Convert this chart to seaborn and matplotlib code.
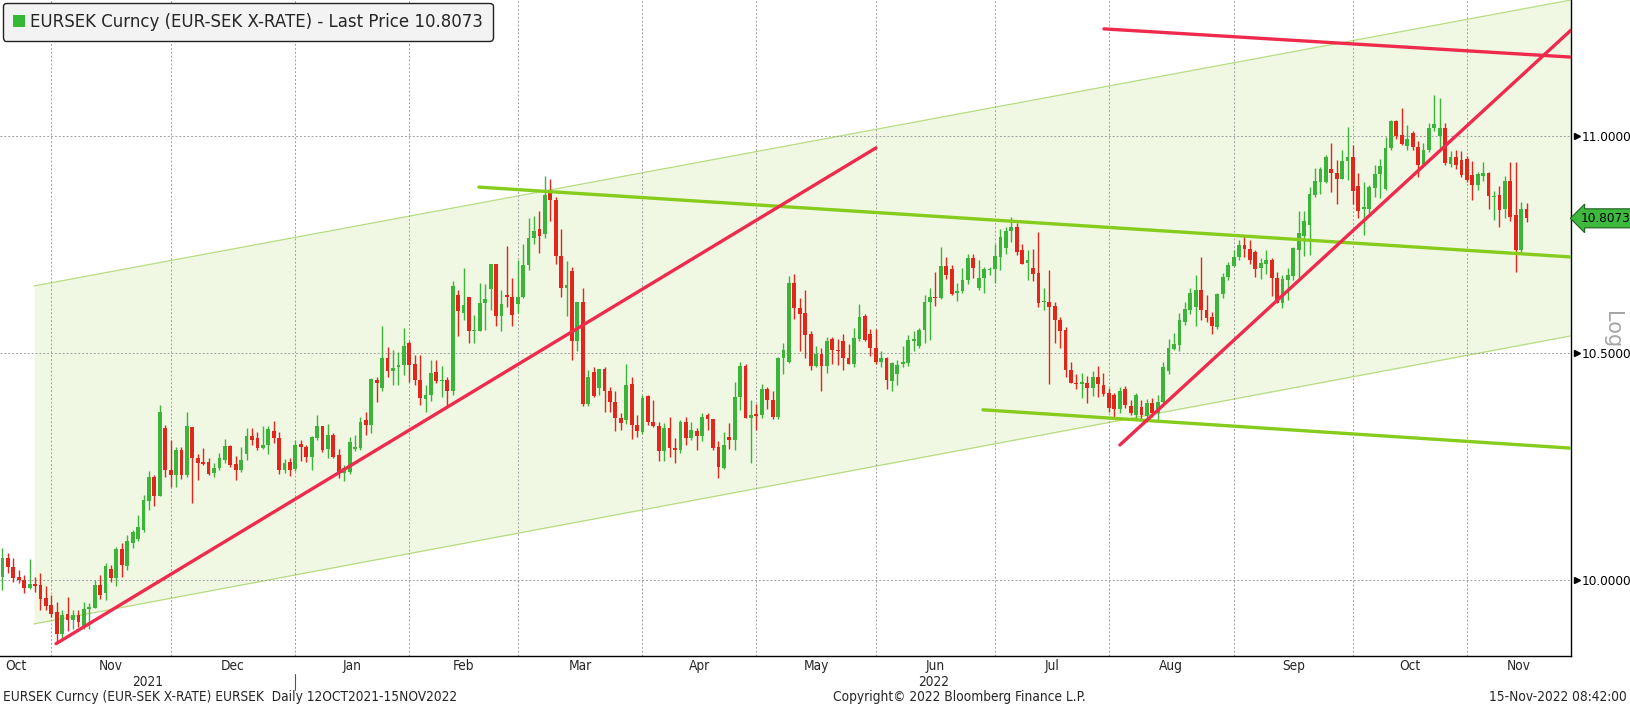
"""EURSEK daily candles (Oct 2021 - Nov 2022) in the Bloomberg chart look,
with the hand-drawn trend channel and trend lines. Writes out.png."""
import matplotlib
matplotlib.use("Agg")
import matplotlib.pyplot as plt
import numpy as np
import pandas as pd
import seaborn as sns
from matplotlib import font_manager
from matplotlib.patches import Patch
from matplotlib.ticker import NullLocator
from matplotlib.transforms import blended_transform_factory

RANGE_START = "2021-10-12"      # requested range (first sessions are off-screen)
FIRST_SESSION = "2021-10-18"
LAST_SESSION = "2022-11-15"

# daily OHLC, one value per weekday from FIRST_SESSION to LAST_SESSION
OPEN = [
    10.007, 10.047, 10.027, 10.007, 10.000, 9.982, 9.991, 9.989, 9.962, 9.946,
    9.932, 9.885, 9.927, 9.914, 9.925, 9.899, 9.937, 9.939, 9.989, 9.971,
    10.023, 10.004, 10.066, 10.029, 10.079, 10.088, 10.108, 10.172, 10.224, 10.182,
    10.331, 10.239, 10.228, 10.282, 10.228, 10.333, 10.265, 10.256, 10.256, 10.232,
    10.243, 10.261, 10.292, 10.253, 10.238, 10.275, 10.313, 10.309, 10.288, 10.295,
    10.325, 10.309, 10.239, 10.256, 10.242, 10.297, 10.290, 10.267, 10.309, 10.335,
    10.285, 10.316, 10.271, 10.232, 10.234, 10.285, 10.288, 10.350, 10.338, 10.438,
    10.420, 10.489, 10.459, 10.468, 10.472, 10.523, 10.474, 10.438, 10.396, 10.405,
    10.457, 10.436, 10.438, 10.414, 10.631, 10.590, 10.627, 10.548, 10.550, 10.613,
    10.644, 10.703, 10.582, 10.631, 10.627, 10.611, 10.627, 10.700, 10.762, 10.782,
    10.770, 10.868, 10.851, 10.720, 10.647, 10.685, 10.526, 10.615, 10.384, 10.457,
    10.420, 10.463, 10.415, 10.390, 10.353, 10.349, 10.430, 10.338, 10.322, 10.402,
    10.346, 10.335, 10.280, 10.332, 10.288, 10.283, 10.344, 10.309, 10.325, 10.313,
    10.360, 10.351, 10.289, 10.243, 10.311, 10.306, 10.401, 10.471, 10.353, 10.362,
    10.361, 10.418, 10.393, 10.355, 10.488, 10.478, 10.658, 10.602, 10.589, 10.542,
    10.470, 10.497, 10.469, 10.530, 10.506, 10.527, 10.488, 10.475, 10.530, 10.582,
    10.542, 10.510, 10.480, 10.488, 10.437, 10.452, 10.475, 10.476, 10.527, 10.514,
    10.551, 10.614, 10.626, 10.623, 10.697, 10.690, 10.635, 10.639, 10.665, 10.715,
    10.646, 10.669, 10.687, 10.690, 10.717, 10.738, 10.778, 10.788, 10.733, 10.705,
    10.692, 10.681, 10.614, 10.614, 10.606, 10.574, 10.551, 10.461, 10.433, 10.430,
    10.433, 10.420, 10.445, 10.428, 10.409, 10.405, 10.373, 10.418, 10.381, 10.361,
    10.379, 10.358, 10.388, 10.364, 10.390, 10.458, 10.508, 10.518, 10.570, 10.597,
    10.603, 10.642, 10.597, 10.580, 10.559, 10.633, 10.671, 10.697, 10.717, 10.746,
    10.736, 10.730, 10.692, 10.702, 10.711, 10.669, 10.613, 10.665, 10.674, 10.734,
    10.766, 10.792, 10.862, 10.893, 10.893, 10.922, 10.912, 10.900, 10.940, 10.951,
    10.883, 10.828, 10.830, 10.877, 10.911, 10.875, 10.971, 11.036, 11.002, 10.976,
    11.008, 10.973, 10.932, 10.967, 11.020, 11.000, 11.018, 10.934, 10.950, 10.944,
    10.945, 10.908, 10.884, 10.906, 10.913, 10.856, 10.861, 10.830, 10.894, 10.814,
    10.733, 10.830,
]
HIGH = [
    10.068, 10.058, 10.047, 10.022, 10.011, 10.045, 10.007, 10.014, 9.986, 9.968,
    9.953, 9.935, 9.964, 9.935, 9.935, 9.953, 9.950, 10.000, 10.011, 10.036,
    10.032, 10.072, 10.079, 10.097, 10.108, 10.141, 10.184, 10.236, 10.228, 10.383,
    10.338, 10.305, 10.290, 10.290, 10.368, 10.334, 10.275, 10.287, 10.265, 10.254,
    10.276, 10.307, 10.294, 10.270, 10.290, 10.331, 10.331, 10.323, 10.335, 10.335,
    10.348, 10.323, 10.262, 10.266, 10.306, 10.306, 10.295, 10.314, 10.361, 10.336,
    10.340, 10.320, 10.286, 10.250, 10.312, 10.317, 10.357, 10.368, 10.444, 10.446,
    10.561, 10.513, 10.507, 10.502, 10.556, 10.527, 10.495, 10.495, 10.427, 10.484,
    10.484, 10.469, 10.446, 10.662, 10.643, 10.693, 10.627, 10.586, 10.658, 10.655,
    10.703, 10.703, 10.643, 10.743, 10.670, 10.712, 10.747, 10.809, 10.813, 10.825,
    10.906, 10.899, 10.856, 10.783, 10.708, 10.694, 10.615, 10.647, 10.460, 10.467,
    10.464, 10.468, 10.423, 10.415, 10.364, 10.475, 10.446, 10.360, 10.404, 10.405,
    10.394, 10.346, 10.343, 10.355, 10.309, 10.350, 10.357, 10.344, 10.331, 10.364,
    10.364, 10.352, 10.302, 10.322, 10.343, 10.434, 10.479, 10.475, 10.394, 10.385,
    10.430, 10.424, 10.413, 10.491, 10.521, 10.674, 10.679, 10.623, 10.642, 10.548,
    10.515, 10.510, 10.536, 10.535, 10.530, 10.542, 10.520, 10.555, 10.611, 10.588,
    10.553, 10.553, 10.503, 10.491, 10.480, 10.484, 10.514, 10.540, 10.550, 10.555,
    10.631, 10.646, 10.684, 10.742, 10.717, 10.700, 10.659, 10.692, 10.725, 10.725,
    10.711, 10.694, 10.694, 10.748, 10.782, 10.788, 10.810, 10.796, 10.748, 10.734,
    10.736, 10.776, 10.646, 10.688, 10.614, 10.580, 10.559, 10.480, 10.452, 10.454,
    10.448, 10.458, 10.469, 10.455, 10.420, 10.409, 10.424, 10.425, 10.394, 10.409,
    10.393, 10.396, 10.398, 10.405, 10.480, 10.530, 10.544, 10.589, 10.616, 10.646,
    10.677, 10.719, 10.631, 10.593, 10.635, 10.681, 10.707, 10.734, 10.756, 10.766,
    10.756, 10.734, 10.715, 10.733, 10.715, 10.684, 10.677, 10.692, 10.742, 10.825,
    10.825, 10.880, 10.924, 10.926, 10.955, 10.983, 10.944, 10.967, 11.022, 10.979,
    10.912, 10.893, 10.885, 10.932, 10.947, 10.997, 11.039, 11.039, 11.066, 11.026,
    11.012, 10.989, 10.983, 11.031, 11.097, 11.089, 11.031, 10.965, 10.967, 10.965,
    10.953, 10.941, 10.916, 10.938, 10.916, 10.872, 10.882, 10.905, 10.939, 10.939,
    10.845, 10.842,
]
LOW = [
    9.978, 10.014, 9.996, 9.993, 9.971, 9.980, 9.975, 9.935, 9.935, 9.921,
    9.867, 9.870, 9.892, 9.896, 9.899, 9.896, 9.896, 9.939, 9.960, 9.957,
    9.996, 9.986, 10.007, 10.022, 10.068, 10.083, 10.104, 10.152, 10.159, 10.182,
    10.224, 10.202, 10.202, 10.220, 10.224, 10.166, 10.217, 10.249, 10.228, 10.223,
    10.239, 10.254, 10.246, 10.217, 10.235, 10.261, 10.294, 10.283, 10.285, 10.273,
    10.298, 10.229, 10.233, 10.226, 10.236, 10.258, 10.256, 10.239, 10.305, 10.278,
    10.265, 10.265, 10.222, 10.215, 10.229, 10.280, 10.284, 10.317, 10.320, 10.390,
    10.413, 10.446, 10.427, 10.427, 10.449, 10.435, 10.427, 10.383, 10.368, 10.392,
    10.431, 10.401, 10.383, 10.405, 10.537, 10.574, 10.523, 10.523, 10.548, 10.552,
    10.597, 10.560, 10.548, 10.603, 10.560, 10.590, 10.623, 10.689, 10.747, 10.727,
    10.762, 10.801, 10.701, 10.627, 10.582, 10.484, 10.504, 10.380, 10.380, 10.400,
    10.405, 10.368, 10.368, 10.324, 10.328, 10.340, 10.307, 10.311, 10.319, 10.339,
    10.333, 10.258, 10.258, 10.267, 10.255, 10.276, 10.293, 10.305, 10.284, 10.302,
    10.328, 10.284, 10.222, 10.240, 10.286, 10.284, 10.372, 10.353, 10.255, 10.328,
    10.353, 10.373, 10.351, 10.351, 10.452, 10.476, 10.576, 10.503, 10.488, 10.461,
    10.467, 10.415, 10.454, 10.475, 10.473, 10.460, 10.474, 10.467, 10.527, 10.527,
    10.493, 10.475, 10.467, 10.418, 10.415, 10.428, 10.467, 10.470, 10.503, 10.510,
    10.521, 10.529, 10.606, 10.621, 10.667, 10.631, 10.618, 10.635, 10.656, 10.669,
    10.642, 10.635, 10.677, 10.658, 10.687, 10.726, 10.753, 10.723, 10.702, 10.665,
    10.664, 10.604, 10.597, 10.430, 10.521, 10.510, 10.446, 10.431, 10.418, 10.398,
    10.388, 10.402, 10.400, 10.402, 10.368, 10.355, 10.364, 10.376, 10.361, 10.351,
    10.351, 10.346, 10.355, 10.350, 10.387, 10.452, 10.505, 10.503, 10.563, 10.588,
    10.561, 10.574, 10.570, 10.542, 10.553, 10.623, 10.665, 10.694, 10.711, 10.717,
    10.702, 10.671, 10.667, 10.679, 10.629, 10.612, 10.601, 10.620, 10.665, 10.669,
    10.720, 10.723, 10.856, 10.865, 10.890, 10.869, 10.840, 10.898, 10.897, 10.840,
    10.807, 10.769, 10.820, 10.856, 10.854, 10.873, 10.968, 10.994, 10.979, 10.968,
    10.968, 10.903, 10.926, 10.963, 11.011, 10.971, 10.932, 10.926, 10.922, 10.903,
    10.893, 10.851, 10.873, 10.895, 10.830, 10.804, 10.788, 10.807, 10.800, 10.684,
    10.727, 10.798,
]
CLOSE = [
    10.047, 10.027, 10.004, 9.999, 9.982, 9.991, 9.987, 9.960, 9.944, 9.928,
    9.885, 9.925, 9.914, 9.925, 9.910, 9.937, 9.941, 9.989, 9.968, 10.029,
    10.004, 10.066, 10.032, 10.083, 10.104, 10.114, 10.173, 10.224, 10.182, 10.368,
    10.239, 10.228, 10.282, 10.228, 10.336, 10.265, 10.254, 10.253, 10.231, 10.243,
    10.265, 10.292, 10.250, 10.238, 10.261, 10.314, 10.304, 10.287, 10.295, 10.329,
    10.309, 10.239, 10.254, 10.239, 10.295, 10.289, 10.267, 10.311, 10.335, 10.284,
    10.316, 10.268, 10.232, 10.243, 10.300, 10.289, 10.346, 10.338, 10.440, 10.431,
    10.489, 10.459, 10.466, 10.472, 10.514, 10.472, 10.438, 10.398, 10.405, 10.455,
    10.436, 10.438, 10.414, 10.652, 10.594, 10.608, 10.548, 10.552, 10.612, 10.621,
    10.703, 10.584, 10.611, 10.627, 10.585, 10.627, 10.700, 10.762, 10.778, 10.767,
    10.862, 10.851, 10.720, 10.647, 10.654, 10.526, 10.615, 10.384, 10.445, 10.402,
    10.463, 10.415, 10.390, 10.353, 10.343, 10.427, 10.338, 10.324, 10.398, 10.346,
    10.335, 10.280, 10.332, 10.288, 10.283, 10.344, 10.309, 10.327, 10.313, 10.357,
    10.351, 10.288, 10.245, 10.293, 10.306, 10.401, 10.469, 10.353, 10.360, 10.358,
    10.418, 10.393, 10.355, 10.488, 10.505, 10.658, 10.602, 10.588, 10.540, 10.470,
    10.497, 10.469, 10.527, 10.506, 10.503, 10.488, 10.475, 10.533, 10.580, 10.529,
    10.510, 10.478, 10.488, 10.439, 10.476, 10.472, 10.478, 10.529, 10.530, 10.551,
    10.616, 10.626, 10.623, 10.697, 10.677, 10.633, 10.640, 10.665, 10.715, 10.692,
    10.669, 10.690, 10.690, 10.720, 10.763, 10.779, 10.788, 10.730, 10.703, 10.710,
    10.679, 10.612, 10.617, 10.604, 10.573, 10.550, 10.460, 10.433, 10.430, 10.435,
    10.420, 10.445, 10.430, 10.408, 10.376, 10.373, 10.413, 10.383, 10.364, 10.405,
    10.361, 10.388, 10.364, 10.390, 10.467, 10.510, 10.520, 10.573, 10.598, 10.636,
    10.642, 10.597, 10.578, 10.561, 10.633, 10.671, 10.700, 10.717, 10.746, 10.736,
    10.710, 10.690, 10.705, 10.711, 10.669, 10.613, 10.667, 10.677, 10.738, 10.774,
    10.802, 10.864, 10.895, 10.922, 10.951, 10.912, 10.900, 10.940, 10.951, 10.872,
    10.825, 10.833, 10.880, 10.911, 10.929, 10.971, 11.036, 11.000, 10.981, 10.992,
    10.975, 10.932, 10.967, 11.020, 11.028, 11.020, 10.936, 10.950, 10.932, 10.908,
    10.897, 10.884, 10.910, 10.912, 10.860, 10.860, 10.827, 10.894, 10.810, 10.733,
    10.829, 10.8073,
]
LAST_PRICE = 10.8073

MONTH_LABELS = ["Oct", "Nov", "Dec", "Jan", "Feb", "Mar", "Apr", "May",
                "Jun", "Jul", "Aug", "Sep", "Oct", "Nov"]
YEAR_LABELS = ["2021", "2022"]
Y_TICKS = [10.0, 10.5, 11.0]

# analyst overlays, endpoints as (session index, price)
CHANNEL_X = [5.81, 289.2]
CHANNEL_TOP = [10.6515, 11.326]
CHANNEL_BOTTOM = [9.906, 10.538]
GREEN_UPPER_X, GREEN_UPPER_Y = [87.85, 289.2], [10.880, 10.718]
GREEN_LOWER_X, GREEN_LOWER_Y = [180.77, 289.2], [10.372, 10.287]
RED_RISE1_X, RED_RISE1_Y = [9.87, 161.05], [9.864, 10.972]
RED_RISE2_X, RED_RISE2_Y = [206.03, 289.2], [10.294, 11.253]
RED_TOP_X, RED_TOP_Y = [203.08, 289.2], [11.256, 11.188]

UP = "#3cb43a"
DOWN = "#e3261c"
LINE_RED = "#ef2a4c"
LINE_GREEN = "#86cc1c"
BAND_FILL = "#f0f8e4"
BAND_EDGE = "#b6dc80"
GRID = "#a0a0a0"

sns.set_theme(style="white")
plt.rcParams["font.family"] = ["DejaVu Sans"]

# Bloomberg axis/footer text is a narrow face; use one if the box has it
_fonts = font_manager.fontManager.ttflist
if any(f.name == "Liberation Sans Narrow" for f in _fonts):
    NARROW = dict(family="Liberation Sans Narrow", fontsize=10.4)
elif any(f.name == "DejaVu Sans" and f.stretch == "condensed" for f in _fonts):
    NARROW = dict(family="DejaVu Sans", fontstretch="condensed", fontsize=9.8)
else:
    NARROW = dict(family="DejaVu Sans", fontsize=8.9)

dates = pd.bdate_range(FIRST_SESSION, LAST_SESSION)
df = pd.DataFrame({"date": dates, "open": OPEN, "high": HIGH,
                   "low": LOW, "close": CLOSE})
df["x"] = np.arange(len(df))
df["color"] = np.where(df["close"] >= df["open"], UP, DOWN)

# month boundaries sit on the last session of each month
bounds = df.index[df["date"].dt.month.values !=
                  df["date"].shift(-1).dt.month.values][:-1].to_numpy()
lead = len(pd.bdate_range(RANGE_START, FIRST_SESSION)) - 1
x_left, x_right = -0.46, 289.2

fig = plt.figure(figsize=(16.30, 7.08), dpi=100)
ax = fig.add_axes([0, 52 / 708, 1571 / 1630, 656 / 708])
ax.set_yscale("log")
ax.set_xlim(x_left, x_right)
ax.set_ylim(9.838, 11.326)

# channel
ax.fill_between(CHANNEL_X, CHANNEL_BOTTOM, CHANNEL_TOP, color=BAND_FILL,
                lw=0, zorder=0)
ax.plot(CHANNEL_X, CHANNEL_TOP, color=BAND_EDGE, lw=0.9, zorder=1)
ax.plot(CHANNEL_X, CHANNEL_BOTTOM, color=BAND_EDGE, lw=0.9, zorder=1)

# dashed grid
for b in bounds:
    ax.axvline(b, color=GRID, lw=0.7, ls=(0, (2, 2)), zorder=1)
for v in Y_TICKS:
    ax.axhline(v, color=GRID, lw=0.7, ls=(0, (2, 2)), zorder=1)

# candles
ax.vlines(df["x"], df["low"], df["high"], colors=df["color"], lw=1.0, zorder=3)
body_lo = np.minimum(df["open"], df["close"])
body_h = np.maximum((df["close"] - df["open"]).abs(), 0.0025)
ax.bar(df["x"], body_h, bottom=body_lo, width=0.7, color=df["color"],
       lw=0, zorder=3)

# trend lines
lines = pd.concat([
    pd.DataFrame({"line": name, "x": xs, "price": ys})
    for name, xs, ys in [
        ("g1", GREEN_UPPER_X, GREEN_UPPER_Y),
        ("g2", GREEN_LOWER_X, GREEN_LOWER_Y),
        ("r1", RED_RISE1_X, RED_RISE1_Y),
        ("r2", RED_RISE2_X, RED_RISE2_Y),
        ("r3", RED_TOP_X, RED_TOP_Y),
    ]
])
sns.lineplot(data=lines, x="x", y="price", hue="line", units="line",
             estimator=None, sort=False, legend=False, lw=2.4, ax=ax,
             palette={"g1": LINE_GREEN, "g2": LINE_GREEN,
                      "r1": LINE_RED, "r2": LINE_RED, "r3": LINE_RED},
             zorder=4)
ax.set_xlabel("")
ax.set_ylabel("")

# axes frame
for side in ("left", "top"):
    ax.spines[side].set_visible(False)
for side in ("right", "bottom"):
    ax.spines[side].set_color("black")
    ax.spines[side].set_linewidth(1.0)

ax.yaxis.tick_right()
ax.set_yticks(Y_TICKS)
ax.set_yticklabels([f"{v:.4f}" for v in Y_TICKS])
ax.yaxis.set_minor_locator(NullLocator())
ax.tick_params(axis="y", which="both", length=0, pad=7.5, labelsize=8.7,
               labelcolor="black")
ax.set_xticks(bounds)
ax.set_xticklabels([])
ax.tick_params(axis="x", length=4, width=0.8, color="black", direction="out")

ytrans = ax.get_yaxis_transform()
ax.plot([1.004] * len(Y_TICKS), Y_TICKS, marker=">", ms=4.5, color="black",
        ls="none", transform=ytrans, clip_on=False)

# last price tag
ax.text(1.0062, LAST_PRICE, f"{LAST_PRICE:.4f}", transform=ytrans,
        ha="left", va="center", fontsize=8.7, color="black", clip_on=False,
        bbox=dict(boxstyle="larrow,pad=0.25", fc="#3dba3d", ec="#1f5f1f",
                  lw=0.8))
fig.text(1612 / 1630, 1 - 330 / 708, "Log", rotation=270, color="#a5a5a5",
         fontsize=15, ha="center", va="center")

# month / year labels under the axis
xtrans = blended_transform_factory(ax.transData, ax.transAxes)
edges = np.concatenate([[-lead], bounds, [x_right]])
for lab, c in zip(MONTH_LABELS, (edges[:-1] + edges[1:]) / 2):
    ax.text(c, -0.0145, lab, transform=xtrans, ha="center", va="center",
            clip_on=False, **NARROW)
year_edge = bounds[2]
for lab, c in zip(YEAR_LABELS, [(x_left + year_edge) / 2,
                                (year_edge + x_right) / 2]):
    ax.text(c, -0.039, lab, transform=xtrans, ha="center", va="center",
            clip_on=False, **NARROW)
ax.plot([year_edge, year_edge], [-0.027, -0.052], color="#555555", lw=0.8,
        transform=xtrans, clip_on=False)

# legend box
ax.legend(handles=[Patch(facecolor="#35b935", edgecolor="none",
                         label=f"EURSEK Curncy (EUR-SEK X-RATE) - Last Price {LAST_PRICE:.4f}")],
          loc="upper left", bbox_to_anchor=(0.002, 0.996), fontsize=12,
          frameon=True, fancybox=True, framealpha=1, facecolor="#f3f3f3",
          edgecolor="#222222", handlelength=0.7, handleheight=0.7,
          handletextpad=0.3, borderpad=0.6, borderaxespad=0)

# footer
foot_y = (708 - 697) / 708
fig.text(3 / 1630, foot_y,
         "EURSEK Curncy (EUR-SEK X-RATE) EURSEK  Daily 12OCT2021-15NOV2022",
         ha="left", va="center", **NARROW)
fig.text(959 / 1630, foot_y, "Copyright\u00a9 2022 Bloomberg Finance L.P.",
         ha="center", va="center", **NARROW)
fig.text(1627 / 1630, foot_y, "15-Nov-2022 08:42:00",
         ha="right", va="center", **NARROW)

fig.savefig("out.png", dpi=100, facecolor="white")
plt.close(fig)
